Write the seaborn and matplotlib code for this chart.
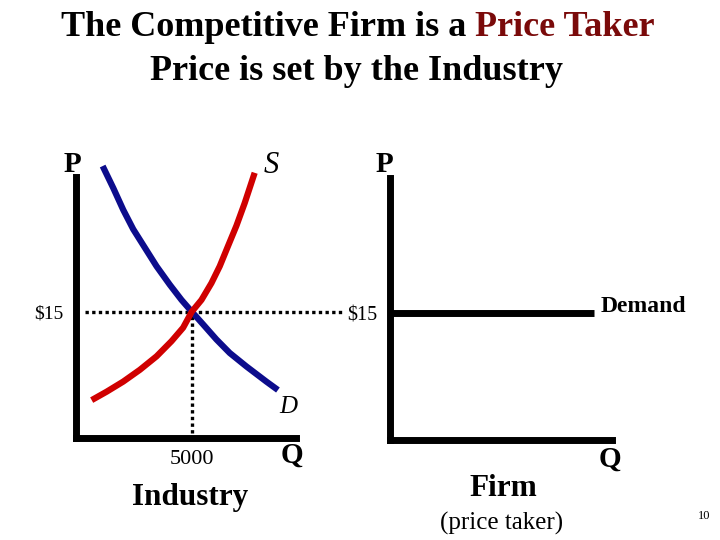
import numpy as np
import pandas as pd
import matplotlib
matplotlib.use("Agg")
import matplotlib.pyplot as plt
import seaborn as sns

# ---- data ----
demand_q = [1151, 1608, 2039, 2470, 2974, 3478, 4052, 4556, 5000, 5487, 6065,
            6638, 7358, 8220, 8720]
demand_p = [32.3, 29.7, 27.1, 24.8, 22.6, 20.4, 18.2, 16.4, 15.0, 13.5, 11.7,
            10.1, 8.5, 6.7, 5.7]
supply_q = [677, 1323, 2039, 2758, 3478, 4125, 4625, 5000, 5418, 5849, 6207,
            6565, 6926, 7284, 7716]
supply_p = [4.5, 5.5, 6.7, 8.1, 9.7, 11.5, 13.1, 15.0, 16.4, 18.4, 20.4,
            22.8, 25.2, 27.9, 31.5]
eq_q = 5000
eq_p = 15
firm_q = [0, 9.2]
firm_p = [15, 15]
price_label = "\\$15"
qty_label = "5000"

sns.set_theme(style="white")
plt.rcParams['font.family'] = ['Liberation Serif', 'DejaVu Serif']
for k in ("text.color", "axes.labelcolor", "xtick.color", "ytick.color"):
    plt.rcParams[k] = "black"

W, H = 720, 540
fig = plt.figure(figsize=(7.2, 5.4), dpi=100)
fig.patch.set_facecolor("white")

def fx(x):
    return x / W

def fy(y):
    return 1 - y / H

BLUE = "#0c0c8c"
RED = "#d00000"
DARKRED = "#7a0a0a"
SPINE_LW = 5

def style_axes(ax):
    sns.despine(ax=ax, top=True, right=True)
    for s in ("left", "bottom"):
        ax.spines[s].set_linewidth(SPINE_LW)
        ax.spines[s].set_color("black")
        ax.spines[s].set_capstyle("projecting")
    ax.set_facecolor("none")
    ax.tick_params(axis="both", length=0, labelsize=14, colors="black")
    ax.set_xlabel("")
    ax.set_ylabel("")

# ---- left: industry ----
ax1 = fig.add_axes([fx(76), fy(438), fx(220), (438 - 177) / H])
ax1.set_xlim(0, 9500)
ax1.set_ylim(0, 31)

dfd = pd.DataFrame({"Q": demand_q, "P": demand_p})
dfs = pd.DataFrame({"Q": supply_q, "P": supply_p})
sns.lineplot(data=dfd, x="Q", y="P", ax=ax1, color=BLUE, lw=4.5, sort=False,
             estimator=None, clip_on=False, solid_capstyle="butt",
             solid_joinstyle="round", zorder=3)
sns.lineplot(data=dfs, x="Q", y="P", ax=ax1, color=RED, lw=4.5, sort=False,
             estimator=None, clip_on=False, solid_capstyle="butt",
             solid_joinstyle="round", zorder=4)

# dotted guides
x_end = ax1.transData.inverted().transform((343, (H - 312)))[0]
ax1.hlines(eq_p, 400, x_end, colors="black", lw=2.4, linestyles=(0, (1, 1)),
           clip_on=False, zorder=1)
ax1.vlines(eq_q, 0.6, eq_p, colors="black", lw=2.4, linestyles=(0, (1, 1)),
           clip_on=False, zorder=1)

ax1.set_xticks([eq_q])
ax1.set_xticklabels([qty_label])
ax1.set_yticks([eq_p])
ax1.set_yticklabels([price_label])
style_axes(ax1)
ax1.tick_params(axis="x", pad=9, labelsize=16)
ax1.tick_params(axis="y", pad=9, labelsize=14)

# ---- right: firm ----
ax2 = fig.add_axes([fx(390), fy(440), fx(222), (440 - 178) / H])
ax2.set_xlim(0, 10)
ax2.set_ylim(0, 31)
dff = pd.DataFrame({"Q": firm_q, "P": firm_p})
sns.lineplot(data=dff, x="Q", y="P", ax=ax2, color="black", lw=5,
             estimator=None, clip_on=False, solid_capstyle="butt")
ax2.set_xticks([])
ax2.set_yticks([eq_p])
ax2.set_yticklabels([price_label])
style_axes(ax2)
ax2.tick_params(axis="y", pad=9, labelsize=14.5)

# ---- texts ----
bold = dict(fontweight="bold", family=['Liberation Serif'])
ital = dict(style="italic", family=['Liberation Serif'])
fig.text(fx(72), fy(164), "P", ha="center", va="center", fontsize=21, **bold)
fig.text(fx(271), fy(166), "S", ha="center", va="center", fontsize=22, **ital)
fig.text(fx(384), fy(165), "P", ha="center", va="center", fontsize=21, **bold)
fig.text(fx(288), fy(407), "D", ha="center", va="center", fontsize=18, **ital)
fig.text(fx(292), fy(455), "Q", ha="center", va="center", fontsize=21, **bold)
fig.text(fx(610), fy(459), "Q", ha="center", va="center", fontsize=21, **bold)
fig.text(fx(643), fy(306), "Demand", ha="center", va="center", fontsize=17, **bold)
fig.text(fx(190), fy(497), "Industry", ha="center", va="center", fontsize=22.5, **bold)
fig.text(fx(503), fy(489), "Firm", ha="center", va="center", fontsize=22.5, **bold)
fig.text(fx(502), fy(523), "(price taker)", ha="center", va="center", fontsize=18,
         family=['Liberation Serif'])
fig.text(fx(704), fy(516), "10", ha="center", va="center", fontsize=9,
         family=['Liberation Serif'])

# title line 1 with coloured part
renderer = fig.canvas.get_renderer()
t1 = fig.text(0, fy(27), "The Competitive Firm is a ", ha="left", va="center",
              fontsize=26, **bold)
t2 = fig.text(0, fy(27), "Price Taker", ha="left", va="center", fontsize=26,
              color=DARKRED, **bold)
w1 = t1.get_window_extent(renderer).width
w2 = t2.get_window_extent(renderer).width
x0 = 357.5 - (w1 + w2) / 2
t1.set_x(fx(x0))
t2.set_x(fx(x0 + w1))
fig.text(fx(356), fy(72), "Price is set by the Industry", ha="center", va="center",
         fontsize=26, **bold)

fig.savefig("out.png", dpi=100, facecolor="white")
